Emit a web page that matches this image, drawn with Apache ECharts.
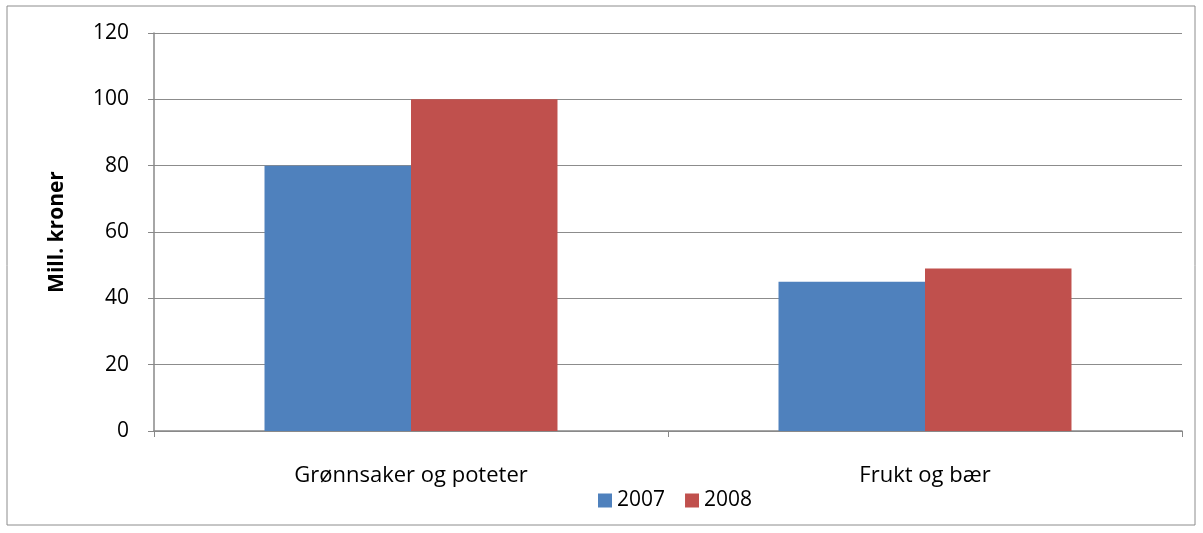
<!DOCTYPE html>
<html>
<head>
<meta charset="utf-8">
<script src="https://cdn.jsdelivr.net/npm/echarts@6/dist/echarts.min.js"></script>
<style>
html, body { margin: 0; padding: 0; background: #fff; }
#main { width: 1203px; height: 533px; }
</style>
</head>
<body>
<div id="main"></div>
<script>
var categories = ['Grønnsaker og poteter', 'Frukt og bær'];
var values2007 = [80, 45];
var values2008 = [100, 49];
var yTicks = { min: 0, max: 120, interval: 20 };

var chart = echarts.init(document.getElementById('main'));
var font = '"Open Sans", "Liberation Sans", sans-serif';

var option = {
    animation: false,
    backgroundColor: '#fff',
    graphic: [{
        type: 'rect',
        shape: { x: 7, y: 6, width: 1188, height: 519 },
        style: { fill: 'none', stroke: '#8c8c8c', lineWidth: 1 },
        silent: true
    }],
    legend: {
        data: ['2007', '2008'],
        bottom: 17,
        left: 593,
        itemWidth: 14,
        itemHeight: 14,
        itemGap: 20,
        icon: 'rect',
        textStyle: { fontFamily: font, fontSize: 21, color: '#000' }
    },
    grid: {
        left: 154,
        right: 21,
        top: 33,
        bottom: 102
    },
    xAxis: {
        type: 'category',
        data: categories,
        axisLine: { lineStyle: { color: '#888', width: 1.5 } },
        axisTick: { show: true, length: 6, lineStyle: { color: '#888' } },
        axisLabel: { fontFamily: font, fontSize: 22, color: '#000', margin: 34 }
    },
    yAxis: {
        type: 'value',
        min: yTicks.min,
        max: yTicks.max,
        interval: yTicks.interval,
        name: 'Mill. kroner',
        nameLocation: 'middle',
        nameGap: 86,
        nameTextStyle: { fontFamily: font, fontSize: 21, fontWeight: 'bold', color: '#000' },
        axisLine: { show: true, lineStyle: { color: '#888', width: 1.5 } },
        axisTick: { show: true, length: 6, lineStyle: { color: '#888' } },
        axisLabel: { fontFamily: font, fontSize: 21, color: '#000', margin: 25 },
        splitLine: { lineStyle: { color: '#8c8c8c', width: 1 } }
    },
    series: [{
            name: '2007',
            type: 'bar',
            data: values2007,
            barGap: '0%',
            barCategoryGap: '43%',
            itemStyle: { color: '#4f81bd' }
        },
        {
            name: '2008',
            type: 'bar',
            data: values2008,
            itemStyle: { color: '#c0504d' }
        }
    ]
};

chart.setOption(option);
</script>
</body>
</html>
